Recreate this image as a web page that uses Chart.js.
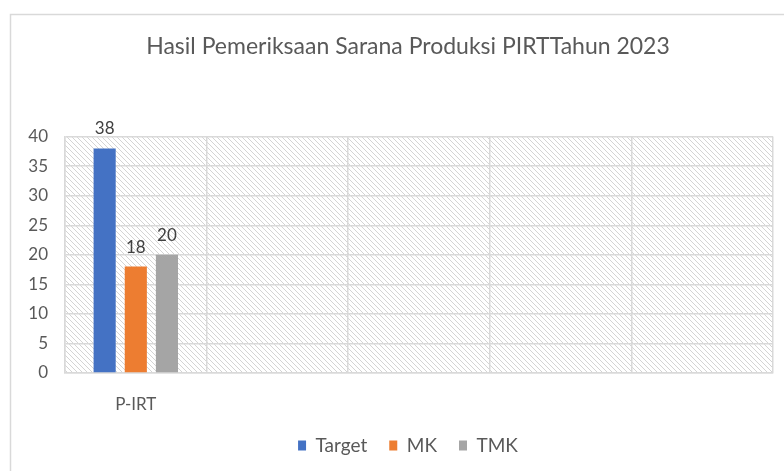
<!DOCTYPE html>
<html>
<head>
<meta charset="utf-8">
<script src="https://cdn.jsdelivr.net/npm/chart.js@4"></script>
<style>
  html, body { margin: 0; padding: 0; background: #fff; }
  #wrap { width: 784px; height: 471px; position: relative; }
</style>
</head>
<body>
<div id="wrap"><canvas id="myChart"></canvas></div>
<script>
// chart data
const categories = ['P-IRT', '', '', '', ''];
const targetValues = [38, null, null, null, null];
const mkValues = [18, null, null, null, null];
const tmkValues = [20, null, null, null, null];
const yTicks = [0, 5, 10, 15, 20, 25, 30, 35, 40];

const FONT = 'Lato, "Open Sans", sans-serif';
const GRID = '#d9d9d9';

// diagonal hatch tile for the plot area
function makeHatch() {
    const c = document.createElement('canvas');
    c.width = 5;
    c.height = 5;
    const g = c.getContext('2d');
    g.fillStyle = '#fff';
    g.fillRect(0, 0, 5, 5);
    g.fillStyle = '#d4d4d4';
    for (let i = 0; i < 5; i++) g.fillRect(i, i, 1, 1);
    return c;
}

const backgroundPlugin = {
    id: 'background',
    beforeDraw(chart) {
        const ctx = chart.ctx;
        const a = chart.chartArea;
        ctx.save();
        ctx.fillStyle = '#fff';
        ctx.fillRect(0, 0, chart.width, chart.height);
        // outer frame (the right side is cut off in the original)
        ctx.strokeStyle = GRID;
        ctx.lineWidth = 1.5;
        ctx.beginPath();
        ctx.moveTo(10.5, chart.height);
        ctx.lineTo(10.5, 14.5);
        ctx.lineTo(chart.width, 14.5);
        ctx.stroke();
        // hatched plot area
        ctx.fillStyle = ctx.createPattern(makeHatch(), 'repeat');
        ctx.fillRect(a.left, a.top, a.right - a.left, a.bottom - a.top);
        ctx.restore();
    }
};

// value labels above the bars
const valueLabels = {
    id: 'valueLabels',
    afterDatasetsDraw(chart) {
        const ctx = chart.ctx;
        ctx.save();
        ctx.font = '17px ' + FONT;
        ctx.fillStyle = '#404040';
        ctx.textAlign = 'center';
        ctx.textBaseline = 'alphabetic';
        chart.data.datasets.forEach((ds, i) => {
            chart.getDatasetMeta(i).data.forEach((bar, j) => {
                const v = ds.data[j];
                if (v == null) return;
                ctx.fillText(v, bar.x, bar.y - 14);
            });
        });
        ctx.restore();
    }
};

const ctx = document.getElementById('myChart').getContext('2d');
const myChart = new Chart(ctx, {
    type: 'bar',
    data: {
        labels: categories,
        datasets: [
            { label: 'Target', data: targetValues, backgroundColor: '#4472C4' },
            { label: 'MK', data: mkValues, backgroundColor: '#ED7D31' },
            { label: 'TMK', data: tmkValues, backgroundColor: '#A5A5A5' }
        ]
    },
    options: {
        responsive: true,
        maintainAspectRatio: false,
        animation: false,
        categoryPercentage: 0.66,
        barPercentage: 0.71,
        // the original chart is wider than the picture, so title and legend are centred further right
        layout: { padding: { left: 10, right: -22, top: 0, bottom: 6 } },
        plugins: {
            title: {
                display: true,
                text: 'Hasil Pemeriksaan Sarana Produksi PIRTTahun 2023',
                color: '#595959',
                font: { family: FONT, size: 23, weight: 'normal' },
                padding: { top: 33, bottom: 76 }
            },
            legend: {
                position: 'bottom',
                labels: {
                    color: '#595959',
                    font: { family: FONT, size: 19 },
                    boxWidth: 8,
                    boxHeight: 10,
                    padding: 22
                }
            },
            tooltip: { enabled: false }
        },
        scales: {
            x: {
                grid: { color: GRID, lineWidth: 1.5, drawTicks: false, offset: true },
                border: { color: GRID, width: 1.5 },
                ticks: { color: '#595959', font: { family: FONT, size: 17 }, padding: 21 },
                afterFit(scale) { scale.height = 41; }
            },
            y: {
                min: 0,
                max: 40,
                afterBuildTicks(scale) {
                    scale.ticks = yTicks.map(v => ({ value: v }));
                },
                afterFit(scale) { scale.width = 55; },
                grid: { color: GRID, lineWidth: 1.5, drawTicks: false },
                border: { color: GRID, width: 1.5 },
                ticks: { color: '#595959', font: { family: FONT, size: 17 }, padding: 17 }
            },
            // empty spacer on the right so the plot ends where the original does
            spacer: {
                type: 'linear',
                position: 'right',
                grid: { display: false },
                border: { display: false },
                ticks: { display: false },
                afterFit(scale) { scale.width = 33; }
            }
        }
    },
    plugins: [backgroundPlugin, valueLabels]
});
</script>
</body>
</html>
